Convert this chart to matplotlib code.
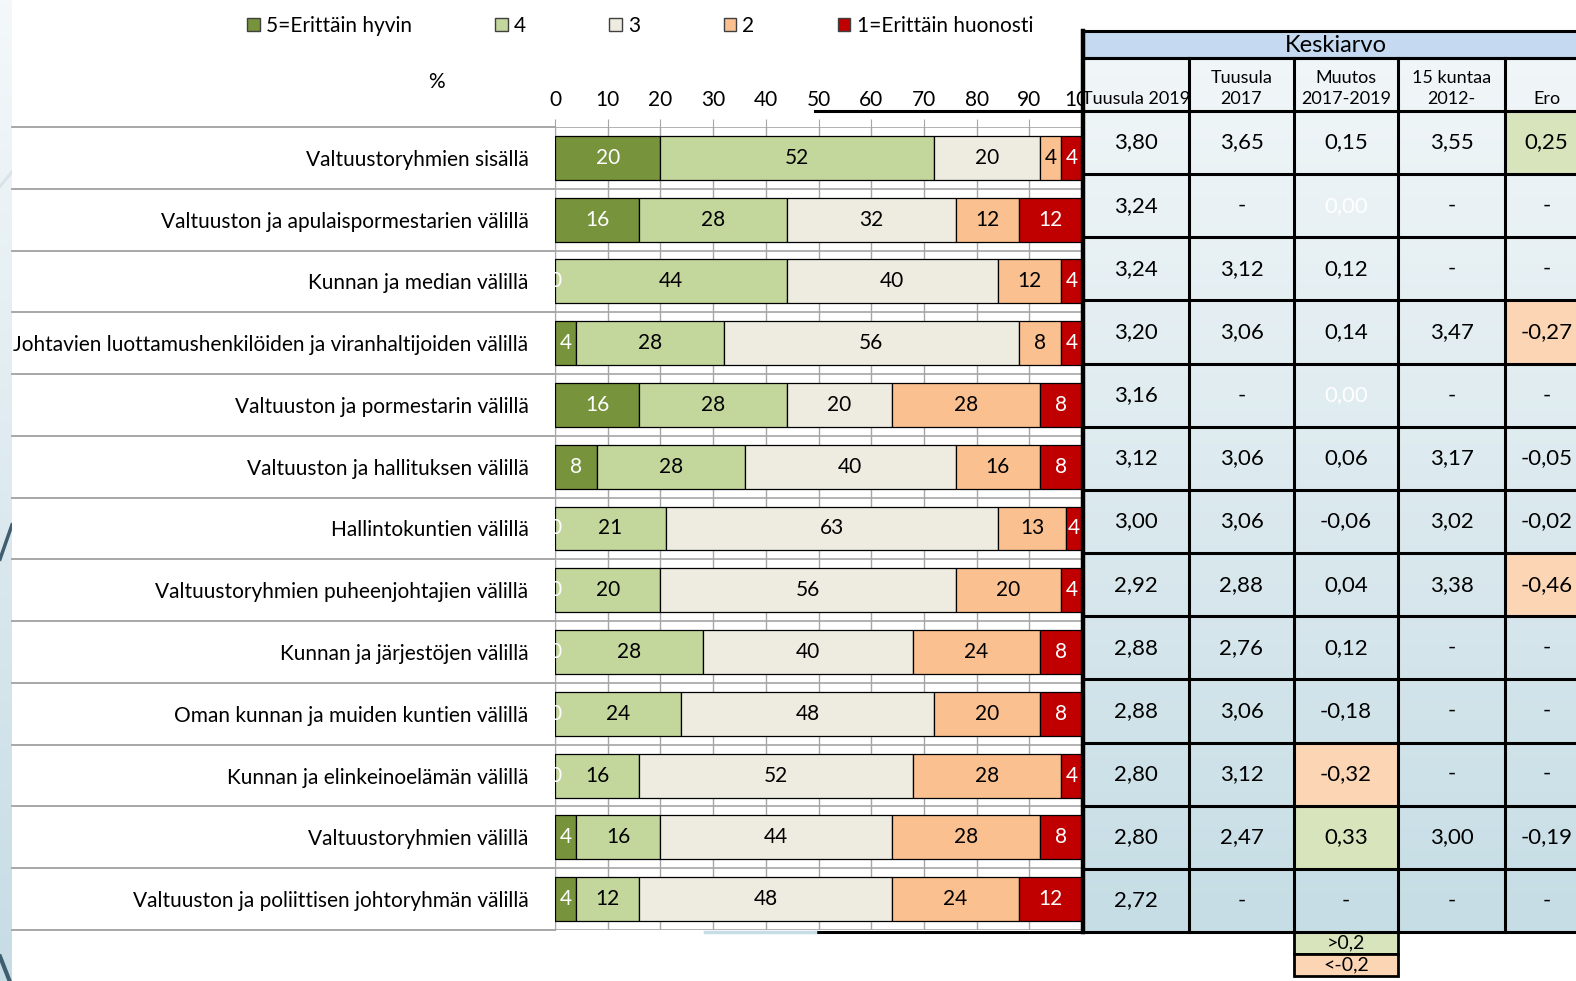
import numpy as np
import matplotlib.pyplot as plt
from matplotlib.patches import Rectangle, Patch
from matplotlib.transforms import blended_transform_factory
from matplotlib.colors import LinearSegmentedColormap

plt.rcParams['font.family'] = ['Lato', 'DejaVu Sans']

# --- data -------------------------------------------------------------
categories = [
    'Valtuustoryhmien sisällä',
    'Valtuuston ja apulaispormestarien välillä',
    'Kunnan ja median välillä',
    'Johtavien luottamushenkilöiden ja viranhaltijoiden välillä',
    'Valtuuston ja pormestarin välillä',
    'Valtuuston ja hallituksen välillä',
    'Hallintokuntien välillä',
    'Valtuustoryhmien puheenjohtajien välillä',
    'Kunnan ja järjestöjen välillä',
    'Oman kunnan ja muiden kuntien välillä',
    'Kunnan ja elinkeinoelämän välillä',
    'Valtuustoryhmien välillä',
    'Valtuuston ja poliittisen johtoryhmän välillä',
]
very_good = [20, 16, 0, 4, 16, 8, 0, 0, 0, 0, 0, 4, 4]
good = [52, 28, 44, 28, 28, 28, 21, 20, 28, 24, 16, 16, 12]
neutral = [20, 32, 40, 56, 20, 40, 63, 56, 40, 48, 52, 44, 48]
poor = [4, 12, 12, 8, 28, 16, 13, 20, 24, 20, 28, 28, 24]
very_poor = [4, 12, 4, 4, 8, 8, 4, 4, 8, 8, 4, 8, 12]

series_names = ['5=Erittäin hyvin', '4', '3', '2', '1=Erittäin huonosti']
series_colors = ['#77933c', '#c3d69b', '#eeece1', '#fac090', '#c00000']
label_colors = ['white', 'black', 'black', 'black', 'white']
x_ticks = list(range(0, 101, 10))

avg_2019 = [3.80, 3.24, 3.24, 3.20, 3.16, 3.12, 3.00, 2.92, 2.88, 2.88, 2.80, 2.80, 2.72]
avg_2017 = [3.65, None, 3.12, 3.06, None, 3.06, 3.06, 2.88, 2.76, 3.06, 3.12, 2.47, None]
change = [0.15, 0.00, 0.12, 0.14, 0.00, 0.06, -0.06, 0.04, 0.12, -0.18, -0.32, 0.33, None]
avg_15 = [3.55, None, None, 3.47, None, 3.17, 3.02, 3.38, None, None, None, 3.00, None]
diff = [0.25, None, None, -0.27, None, -0.05, -0.02, -0.46, None, None, None, -0.19, None]
table_title = 'Keskiarvo'
col_headers = ['Tuusula 2019', 'Tuusula\n2017', 'Muutos\n2017-2019', '15 kuntaa\n2012-', 'Ero']
hi_color = '#d8e4bc'
lo_color = '#fcd5b4'


def fmt(v):
    if v is None:
        return '-'
    return f'{v:.2f}'.replace('.', ',')


W, H = 1576, 981
fig = plt.figure(figsize=(W / 100, H / 100), dpi=100)

# left decorative strip
strip = fig.add_axes([0, 0, 12 / W, 1])
grad = np.linspace(0, 1, 256).reshape(-1, 1)
strip_cmap = LinearSegmentedColormap.from_list('strip', ['#f4f8fa', '#c6dce5'])
strip.imshow(grad, aspect='auto', cmap=strip_cmap, extent=(0, 1, 1, 0))
strip.plot([0, 1], [0.57, 0.535], color='#3e5f70', lw=2.5)
strip.plot([0, 1], [0.19, 0.175], color='#d8e2e8', lw=2)
strip.plot([0, 0.8], [0.975, 1.0], color='#3e5f70', lw=3)
strip.set_xlim(0, 1)
strip.set_ylim(1, 0)
strip.axis('off')

# --- bar chart --------------------------------------------------------
ax = fig.add_axes([555 / W, 1 - 930 / H, (1082 - 555) / W, (930 - 127) / H])
y = np.arange(len(categories))
left = np.zeros(len(categories))
for vals, name, col, lc in zip([very_good, good, neutral, poor, very_poor],
                               series_names, series_colors, label_colors):
    bars = ax.barh(y, vals, left=left, height=0.71, color=col, edgecolor='black',
                   linewidth=0.9, label=name, zorder=3)
    ax.bar_label(bars, labels=[str(v) for v in vals], label_type='center',
                 color=lc, fontsize=15, clip_on=True, zorder=4)
    left += np.array(vals)

ax.set_xlim(0, 100)
ax.set_ylim(len(categories) - 0.5, -0.5)
ax.set_xticks(x_ticks)
ax.xaxis.tick_top()
ax.tick_params(axis='x', length=6, color='#a6a6a6', labelsize=15, pad=6)
ax.set_yticks(y)
ax.set_yticklabels(categories, fontsize=15)
ax.tick_params(axis='y', length=0, pad=19)
ax.grid(axis='x', color='#a6a6a6', lw=1, zorder=0)
for s in np.arange(-0.5, len(categories), 1):
    ax.axhline(s, color='#a6a6a6', lw=1.2, zorder=1)
for side in ['top', 'right', 'bottom']:
    ax.spines[side].set_visible(False)
ax.spines['left'].set_color('#a6a6a6')

# row separators through the label area
trans = blended_transform_factory(fig.transFigure, ax.transData)
for s in np.arange(-0.5, len(categories), 1):
    ax.plot([12 / W, 555 / W], [s, s], transform=trans, color='#a0a0a0', lw=1.3,
            clip_on=False)

fig.text(436 / W, 1 - 82 / H, '%', fontsize=15, ha='center', va='center')

handles = [Patch(facecolor=c, edgecolor='#404040', linewidth=1) for c in series_colors]
fig.legend(handles, series_names, loc='center', bbox_to_anchor=(640 / W, 1 - 26 / H),
           ncol=5, frameon=False, fontsize=15, columnspacing=4.0, handlelength=0.6,
           handleheight=0.6, handletextpad=0.3)

# --- table (overlay in pixel coordinates) -----------------------------
ov = fig.add_axes([0, 0, 1, 1])
ov.patch.set_alpha(0)
cols = [1083, 1189, 1294, 1398, 1505, 1588]
rows = np.linspace(111, 932, len(categories) + 1)

tab_cmap = LinearSegmentedColormap.from_list('tab', ['#f1f6f8', '#c6dde5'])
ov.imshow(grad, aspect='auto', cmap=tab_cmap, extent=(cols[0], cols[-1], 932, 58), zorder=0)

ov.add_patch(Rectangle((cols[0], 31), cols[-1] - cols[0], 27, facecolor='#c5d9f1',
                       edgecolor='black', lw=2.2, zorder=2))
ov.text((cols[0] + cols[-1]) / 2, 45, table_title, fontsize=17, ha='center', va='center', zorder=5)

columns = [avg_2019, avg_2017, change, avg_15, diff]
for j, (vals, head) in enumerate(zip(columns, col_headers)):
    cx = (cols[j] + cols[j + 1]) / 2
    ov.text(cx, 107, head, fontsize=13, ha='center', va='bottom', linespacing=1.35, zorder=5)
    for i, v in enumerate(vals):
        cy = (rows[i] + rows[i + 1]) / 2
        if j in (2, 4) and v is not None and abs(v) > 0.2:
            ov.add_patch(Rectangle((cols[j], rows[i]), cols[j + 1] - cols[j], rows[i + 1] - rows[i],
                                   facecolor=hi_color if v > 0 else lo_color, zorder=1))
        color = 'white' if (j == 2 and v == 0) else 'black'
        ov.text(cx, cy, fmt(v), fontsize=16, ha='center', va='center', color=color, zorder=5)

for r in rows:
    ov.plot([cols[0], cols[-1]], [r, r], color='black', lw=2.2, zorder=3)
ov.plot([cols[0], cols[-1]], [58, 58], color='black', lw=2.2, zorder=3)
for c in cols[1:]:
    ov.plot([c, c], [58, 932], color='black', lw=2.2, zorder=3)
ov.plot([cols[0], cols[0]], [31, 932], color='black', lw=3.2, zorder=3)
ov.plot([815, cols[0]], [111, 111], color='black', lw=2.2, zorder=3)
ov.plot([815, cols[0]], [932, 932], color='black', lw=2.2, zorder=3)
ov.plot([705, 815], [932, 932], color='#c6dde5', lw=2.5, zorder=3)

# colour key under the change column
key_texts = ['>0,2', '<-0,2']
key_colors = [hi_color, lo_color]
for k, (t, c) in enumerate(zip(key_texts, key_colors)):
    y0 = 932 + k * 22
    ov.add_patch(Rectangle((cols[2], y0), cols[3] - cols[2], 22, facecolor=c,
                           edgecolor='black', lw=2, zorder=2))
    ov.text((cols[2] + cols[3]) / 2, y0 + 11, t, fontsize=14, ha='center', va='center', zorder=5)

ov.set_xlim(0, W)
ov.set_ylim(H, 0)
ov.axis('off')

fig.savefig('out.png', dpi=100, facecolor='white')
